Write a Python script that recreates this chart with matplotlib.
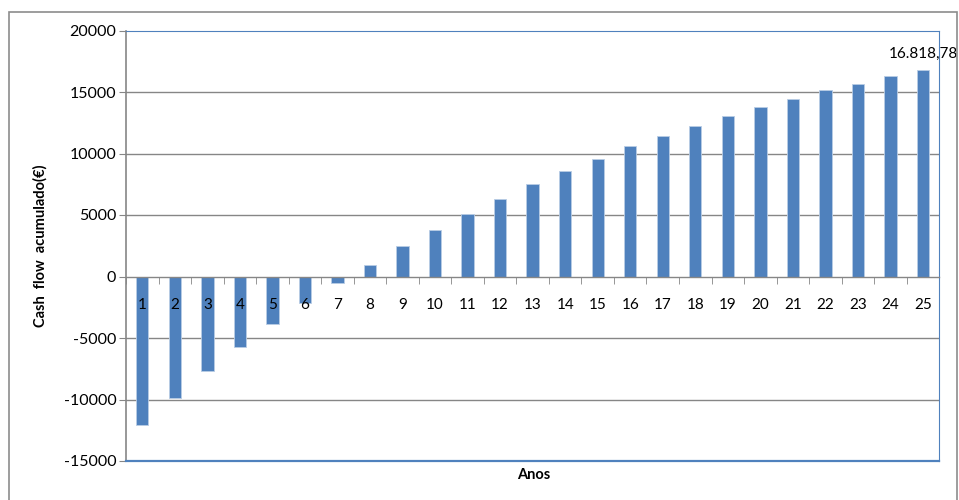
import matplotlib
matplotlib.use('Agg')
import matplotlib.pyplot as plt
from matplotlib.patches import Rectangle
from matplotlib.ticker import FixedLocator

plt.rcParams['font.family'] = ['Lato', 'DejaVu Sans']

# cash flow acumulado por ano
anos = list(range(1, 26))
cash_flow = [-12090, -9840, -7720, -5750, -3880, -2140, -520, 940, 2460, 3820,
             5120, 6340, 7480, 8560, 9560, 10570, 11430, 12200, 13060, 13790,
             14420, 15170, 15690, 16290, 16818.78]
ultimo_label = '16.818,78'
y_ticks = [-15000, -10000, -5000, 0, 5000, 10000, 15000, 20000]

bar_color = '#4F81BD'
grid_color = '#868686'

fig = plt.figure(figsize=(9.59, 5.0), dpi=100)
ax = fig.add_axes([0.1314, 0.078, 0.848, 0.861])

# moldura exterior do gráfico
fig.patches.append(Rectangle((0.0094, -0.01), 0.9886, 0.986, transform=fig.transFigure,
                             fill=False, edgecolor='#8C8C8C', linewidth=1.2))

ax.bar(anos, cash_flow, width=0.38, color=bar_color, edgecolor='#B9CDE5',
       linewidth=0.6, zorder=2)

ax.set_xlim(0.5, 25.5)
ax.set_ylim(-15000, 20000)
ax.set_yticks(y_ticks)
ax.set_yticklabels([str(v) for v in y_ticks], fontsize=11.5)
for v in y_ticks[1:-1]:
    if v != 0:
        ax.axhline(v, color=grid_color, linewidth=1.0, zorder=1)

# eixo x na linha do zero
ax.spines['bottom'].set_position(('data', 0))
ax.spines['bottom'].set_color(grid_color)
ax.spines['bottom'].set_linewidth(1.0)
ax.spines['bottom'].set_zorder(4)
ax.spines['left'].set_color(grid_color)
ax.spines['left'].set_linewidth(1.2)
ax.spines['top'].set_color(bar_color)
ax.spines['right'].set_color(bar_color)
ax.axhline(-15000, color=bar_color, linewidth=1.6, zorder=4, clip_on=False)
ax.xaxis.set_zorder(5)

ax.set_xticks(anos)
ax.set_xticklabels([str(a) for a in anos], fontsize=11)
ax.xaxis.set_minor_locator(FixedLocator([a + 0.5 for a in range(0, 25)]))
ax.tick_params(axis='x', which='major', length=0, pad=15.5)
ax.tick_params(axis='x', which='minor', length=5, color=grid_color, direction='out')
ax.tick_params(axis='y', length=5, color=grid_color, direction='out', pad=2)

ax.text(anos[-1], cash_flow[-1] + 700, ultimo_label, ha='center', va='bottom',
        fontsize=11, clip_on=False)

fig.text(0.042, 0.508, 'Cash  flow  acumulado(€)', rotation=90, ha='center', va='center',
         fontsize=10.5, fontweight='bold')
fig.text(0.556, 0.05, 'Anos', ha='center', va='center', fontsize=10.5, fontweight='bold')

fig.savefig('out.png', dpi=100)
